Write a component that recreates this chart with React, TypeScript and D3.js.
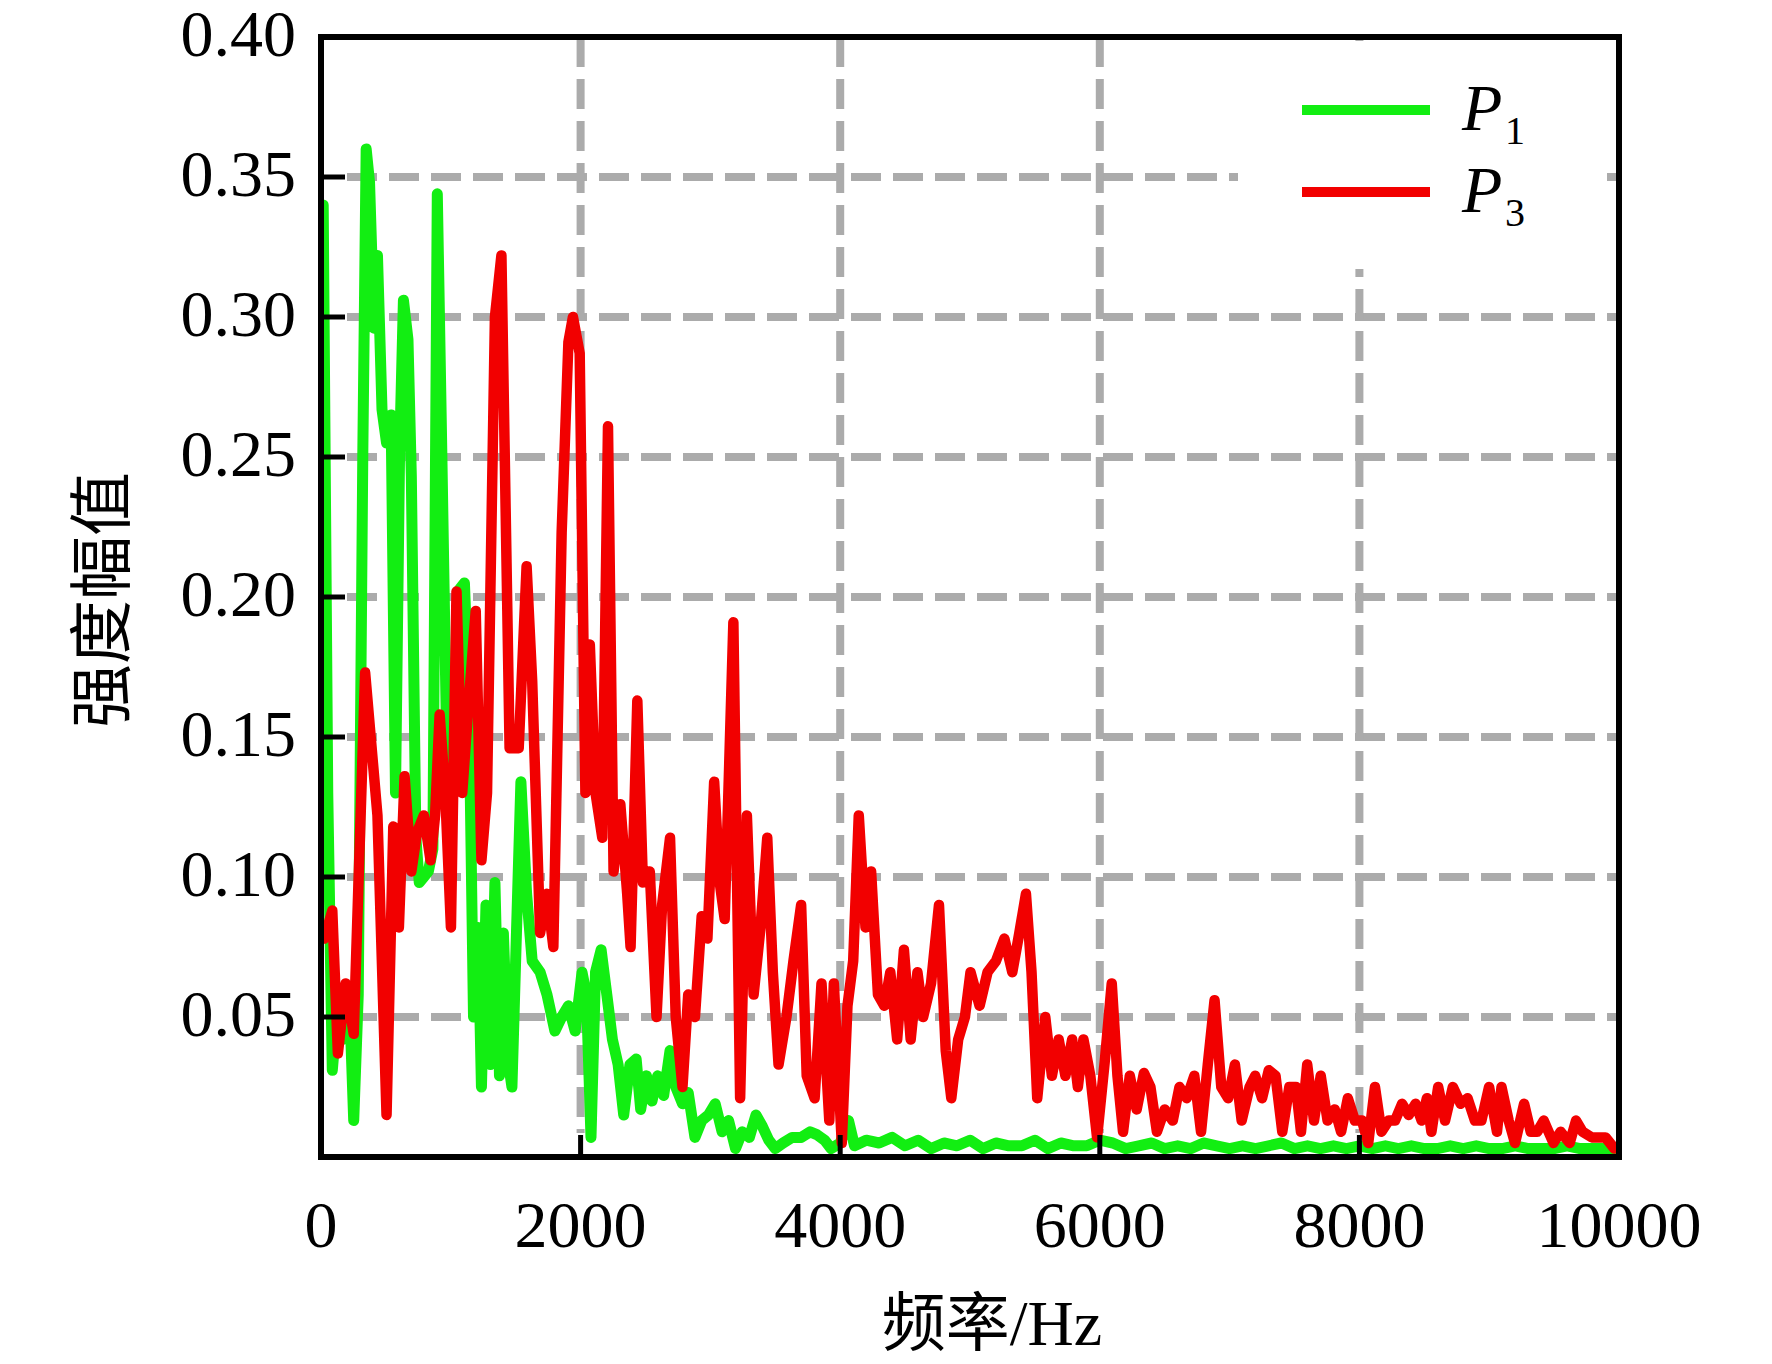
import React from "react";
import * as d3 from "d3";

const W = 1772;
const H = 1364;

const xTicks = [0, 2000, 4000, 6000, 8000, 10000];
const yTicks = [0.05, 0.1, 0.15, 0.2, 0.25, 0.3, 0.35, 0.4];
const yTickLabels = ["0.05", "0.10", "0.15", "0.20", "0.25", "0.30", "0.35", "0.40"];
const xTitle = "频率/Hz";
const yTitle = "强度幅值";
const seriesNames = ["P", "P"];
const seriesSubs = ["1", "3"];
const seriesColors = ["#12ee12", "#f20000"];

const p1Freq = [17, 52, 87, 122, 165, 218, 252, 287, 322, 348, 374, 409, 435, 470, 505, 540, 574, 605, 635, 670, 696, 731, 757, 792, 827, 862, 896, 931, 966, 1001, 1036, 1070, 1105, 1140, 1175, 1210, 1236, 1271, 1305, 1340, 1375, 1405, 1440, 1471, 1540, 1584, 1627, 1688, 1741, 1802, 1854, 1906, 1958, 2011, 2045, 2080, 2115, 2158, 2202, 2245, 2289, 2332, 2380, 2428, 2463, 2507, 2550, 2594, 2640, 2689, 2733, 2785, 2829, 2881, 2933, 2985, 3037, 3090, 3140, 3194, 3245, 3300, 3351, 3400, 3450, 3500, 3560, 3630, 3700, 3768, 3820, 3880, 3930, 4000, 4064, 4110, 4200, 4300, 4400, 4500, 4600, 4700, 4800, 4900, 5000, 5100, 5200, 5300, 5400, 5500, 5600, 5700, 5800, 5900, 6000, 6100, 6200, 6300, 6400, 6500, 6600, 6700, 6800, 6900, 7000, 7100, 7200, 7300, 7400, 7500, 7600, 7700, 7800, 7900, 8000, 8100, 8200, 8300, 8400, 8500, 8600, 8700, 8800, 8900, 9000, 9100, 9200, 9300, 9400, 9500, 9600, 9700, 9800, 9900, 9980];
const p1Val = [0.34, 0.13, 0.031, 0.05, 0.042, 0.058, 0.013, 0.058, 0.251, 0.36, 0.348, 0.296, 0.322, 0.267, 0.255, 0.265, 0.13, 0.25, 0.306, 0.292, 0.243, 0.114, 0.098, 0.1, 0.102, 0.11, 0.344, 0.251, 0.154, 0.118, 0.162, 0.203, 0.205, 0.162, 0.05, 0.082, 0.025, 0.09, 0.033, 0.098, 0.029, 0.08, 0.035, 0.025, 0.134, 0.094, 0.07, 0.066, 0.058, 0.045, 0.05, 0.054, 0.045, 0.066, 0.058, 0.007, 0.066, 0.074, 0.058, 0.042, 0.033, 0.015, 0.033, 0.035, 0.017, 0.029, 0.02, 0.029, 0.022, 0.038, 0.025, 0.019, 0.023, 0.007, 0.013, 0.015, 0.019, 0.009, 0.013, 0.003, 0.009, 0.007, 0.015, 0.011, 0.006, 0.003, 0.005, 0.007, 0.007, 0.009, 0.008, 0.006, 0.003, 0.005, 0.013, 0.004, 0.006, 0.005, 0.007, 0.004, 0.006, 0.003, 0.005, 0.004, 0.006, 0.003, 0.005, 0.004, 0.004, 0.006, 0.003, 0.005, 0.004, 0.004, 0.006, 0.005, 0.003, 0.004, 0.005, 0.003, 0.004, 0.003, 0.005, 0.004, 0.003, 0.004, 0.003, 0.004, 0.005, 0.003, 0.004, 0.003, 0.004, 0.003, 0.004, 0.003, 0.004, 0.003, 0.004, 0.003, 0.003, 0.004, 0.003, 0.004, 0.003, 0.003, 0.004, 0.003, 0.003, 0.003, 0.004, 0.003, 0.003, 0.003, 0.003];

const p3Freq = [26, 87, 130, 190, 252, 340, 435, 505, 557, 600, 644, 696, 740, 792, 844, 879, 914, 957, 1001, 1044, 1088, 1131, 1192, 1236, 1279, 1340, 1390, 1453, 1523, 1584, 1627, 1688, 1741, 1790, 1854, 1906, 1941, 1993, 2037, 2071, 2115, 2167, 2211, 2254, 2306, 2359, 2385, 2437, 2480, 2533, 2585, 2628, 2689, 2733, 2785, 2829, 2881, 2933, 2977, 3029, 3072, 3110, 3177, 3229, 3281, 3333, 3386, 3438, 3481, 3525, 3586, 3640, 3699, 3742, 3803, 3856, 3916, 3951, 4012, 4056, 4100, 4143, 4195, 4238, 4291, 4340, 4386, 4439, 4491, 4543, 4595, 4639, 4700, 4761, 4813, 4856, 4909, 4961, 5004, 5074, 5135, 5200, 5265, 5326, 5380, 5431, 5474, 5518, 5580, 5631, 5683, 5735, 5787, 5831, 5874, 5927, 5979, 6040, 6092, 6136, 6179, 6231, 6284, 6340, 6390, 6440, 6500, 6562, 6614, 6670, 6728, 6780, 6832, 6884, 6936, 6989, 7041, 7093, 7154, 7197, 7250, 7302, 7354, 7406, 7460, 7511, 7550, 7598, 7650, 7702, 7755, 7810, 7859, 7911, 7965, 8020, 8068, 8120, 8170, 8225, 8275, 8329, 8380, 8433, 8480, 8520, 8555, 8607, 8660, 8720, 8780, 8833, 8890, 8940, 8999, 9060, 9095, 9150, 9199, 9269, 9320, 9370, 9420, 9495, 9550, 9620, 9669, 9720, 9790, 9840, 9896, 9965];
const p3Val = [0.078, 0.088, 0.037, 0.062, 0.044, 0.173, 0.122, 0.015, 0.118, 0.082, 0.136, 0.102, 0.116, 0.122, 0.106, 0.122, 0.158, 0.13, 0.082, 0.202, 0.13, 0.158, 0.195, 0.106, 0.13, 0.3, 0.322, 0.146, 0.146, 0.211, 0.17, 0.08, 0.094, 0.075, 0.223, 0.291, 0.3, 0.287, 0.13, 0.183, 0.13, 0.114, 0.261, 0.102, 0.126, 0.094, 0.075, 0.163, 0.098, 0.102, 0.05, 0.09, 0.114, 0.05, 0.025, 0.058, 0.05, 0.086, 0.078, 0.134, 0.098, 0.085, 0.191, 0.021, 0.122, 0.058, 0.082, 0.114, 0.066, 0.033, 0.05, 0.07, 0.09, 0.029, 0.021, 0.062, 0.013, 0.062, 0.005, 0.054, 0.07, 0.122, 0.082, 0.102, 0.058, 0.054, 0.066, 0.042, 0.074, 0.042, 0.066, 0.05, 0.062, 0.09, 0.038, 0.021, 0.042, 0.05, 0.066, 0.054, 0.066, 0.07, 0.078, 0.066, 0.08, 0.094, 0.066, 0.021, 0.05, 0.029, 0.042, 0.029, 0.042, 0.025, 0.042, 0.029, 0.007, 0.035, 0.062, 0.029, 0.009, 0.029, 0.017, 0.03, 0.025, 0.009, 0.017, 0.013, 0.025, 0.021, 0.029, 0.009, 0.033, 0.056, 0.025, 0.021, 0.033, 0.013, 0.025, 0.029, 0.021, 0.031, 0.029, 0.009, 0.025, 0.025, 0.009, 0.033, 0.013, 0.029, 0.013, 0.017, 0.009, 0.021, 0.013, 0.013, 0.005, 0.025, 0.009, 0.013, 0.013, 0.019, 0.015, 0.019, 0.013, 0.021, 0.009, 0.025, 0.013, 0.025, 0.019, 0.021, 0.013, 0.013, 0.025, 0.009, 0.025, 0.013, 0.005, 0.019, 0.009, 0.009, 0.013, 0.005, 0.009, 0.005, 0.013, 0.009, 0.007, 0.007, 0.007, 0.003];

const left = 321;
const right = 1619;
const top = 37;
const bottom = 1157;

const serif = "'Liberation Serif', 'Times New Roman', serif";
const cjk = "'Liberation Serif', 'Noto Sans CJK SC', serif";

export default function App() {
  const x = d3.scaleLinear().domain([0, 10000]).range([left, right]);
  const y = d3.scaleLinear().domain([0, 0.4]).range([bottom, top]);

  const line = d3
    .line<[number, number]>()
    .x((d) => x(d[0]))
    .y((d) => y(d[1]))
    .curve(d3.curveLinear);

  const p1: [number, number][] = p1Freq.map((f, i) => [f, p1Val[i]]);
  const p3: [number, number][] = p3Freq.map((f, i) => [f, p3Val[i]]);
  const series = [p1, p3];

  const gridColor = "#ababab";

  return (
    <div style={{ position: "absolute", left: 0, top: 0 }}>
      <svg width={W} height={H} viewBox={`0 0 ${W} ${H}`} style={{ display: "block", background: "#fff" }}>
        <defs>
          <clipPath id="plotClip">
            <rect x={left} y={top - 10} width={right - left} height={bottom - top + 10} />
          </clipPath>
        </defs>
        {/* grid */}
        {yTicks.slice(0, -1).map((t) => (
          <line
            key={"gy" + t}
            x1={left + 26}
            x2={right}
            y1={y(t)}
            y2={y(t)}
            stroke={gridColor}
            strokeWidth={8}
            strokeDasharray="30 12"
          />
        ))}
        {xTicks.slice(1, -1).map((t) => (
          <line
            key={"gx" + t}
            x1={x(t)}
            x2={x(t)}
            y1={top}
            y2={bottom - 24}
            stroke={gridColor}
            strokeWidth={8}
            strokeDasharray="30 12"
          />
        ))}
        {/* legend background */}
        <rect x={1238} y={top + 4} width={362} height={228} fill="#fff" />
        {/* series */}
        <g clipPath="url(#plotClip)">
          {series.map((s, i) => (
            <path
              key={"s" + i}
              d={line(s) || ""}
              fill="none"
              stroke={seriesColors[i]}
              strokeWidth={i === 0 ? 11 : 10.5}
              strokeLinejoin="round"
              strokeLinecap="round"
            />
          ))}
        </g>
        {/* ticks */}
        {yTicks.slice(0, -1).map((t) => (
          <line key={"ty" + t} x1={left} x2={left + 24} y1={y(t)} y2={y(t)} stroke="#000" strokeWidth={5} />
        ))}
        {xTicks.slice(1, -1).map((t) => (
          <line key={"tx" + t} x1={x(t)} x2={x(t)} y1={bottom} y2={bottom - 22} stroke="#000" strokeWidth={5} />
        ))}
        {/* frame */}
        <rect x={left} y={top} width={right - left} height={bottom - top} fill="none" stroke="#000" strokeWidth={6} />
        {/* y tick labels */}
        {yTicks.map((t, i) => (
          <text
            key={"ly" + t}
            x={296}
            y={y(t) + 19}
            textAnchor="end"
            fontFamily={serif}
            fontSize={66}
            fill="#000"
          >
            {yTickLabels[i]}
          </text>
        ))}
        {/* x tick labels */}
        {xTicks.map((t) => (
          <text key={"lx" + t} x={x(t)} y={1247} textAnchor="middle" fontFamily={serif} fontSize={66} fill="#000">
            {String(t)}
          </text>
        ))}
        {/* axis titles */}
        <text x={992} y={1345} textAnchor="middle" fontFamily={cjk} fontSize={64} fill="#000">
          {xTitle}
        </text>
        <text
          x={0}
          y={0}
          transform={`translate(102, 600) rotate(-90)`}
          textAnchor="middle"
          dominantBaseline="central"
          fontFamily={cjk}
          fontSize={64}
          fill="#000"
        >
          {yTitle}
        </text>
        {/* legend */}
        {seriesNames.map((n, i) => {
          const ly = i === 0 ? 110 : 192;
          return (
            <g key={"lg" + i}>
              <line x1={1302} x2={1430} y1={ly} y2={ly} stroke={seriesColors[i]} strokeWidth={10} />
              <text x={1462} y={ly + 20} fontFamily={serif} fontStyle="italic" fontSize={66} fill="#000">
                {n}
              </text>
              <text x={1505} y={ly + 34} fontFamily={serif} fontSize={40} fill="#000">
                {seriesSubs[i]}
              </text>
            </g>
          );
        })}
      </svg>
    </div>
  );
}
